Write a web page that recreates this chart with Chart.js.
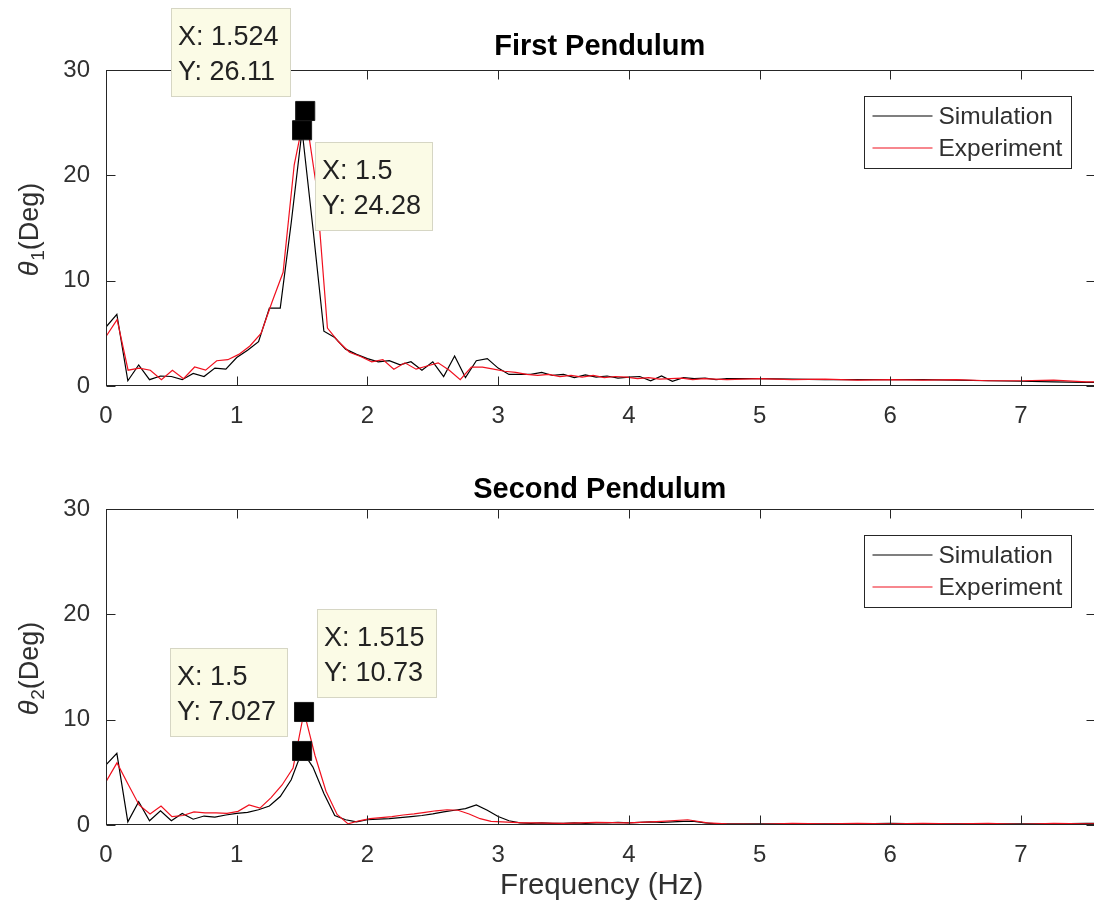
<!DOCTYPE html>
<html>
<head>
<meta charset="utf-8">
<script src="https://cdn.jsdelivr.net/npm/chart.js@4.4.1/dist/chart.umd.min.js"></script>
<style>
  html, body { margin: 0; padding: 0; background: #fff; width: 1094px; height: 916px; overflow: hidden; }
  .panel { position: absolute; left: 0; }
  canvas { display: block; }
</style>
</head>
<body>
<div class="panel" style="top:0"><canvas id="top" width="1110" height="450"></canvas></div>
<div class="panel" style="top:450px"><canvas id="bottom" width="1110" height="466"></canvas></div>
<script>
// ---- axis settings ----
const xTicks = [0, 1, 2, 3, 4, 5, 6, 7];
const yTicks = [0, 10, 20, 30];
const xMax = 7.57;
const yMax = 30;

// ---- simulation frequency grid (Hz) ----
const simFreq = [0, 0.083, 0.167, 0.25, 0.333, 0.417, 0.5, 0.583, 0.667, 0.75, 0.833, 0.917, 1, 1.083, 1.167, 1.25,
  1.333, 1.417, 1.5, 1.583, 1.667, 1.75, 1.833, 1.917, 2, 2.083, 2.167, 2.25, 2.333, 2.417, 2.5, 2.583, 2.667, 2.75,
  2.833, 2.917, 3, 3.083, 3.167, 3.25, 3.333, 3.417, 3.5, 3.583, 3.667, 3.75, 3.833, 3.917, 4, 4.083, 4.167, 4.25,
  4.333, 4.417, 4.5, 4.583, 4.667, 4.75, 5, 5.25, 5.5, 5.75, 6, 6.25, 6.5, 6.75, 7, 7.25, 7.5, 7.75];

// first pendulum, simulation amplitude (deg)
const sim1 = [5.6, 6.8, 0.5, 2.0, 0.6, 0.95, 0.9, 0.6, 1.2, 0.9, 1.7, 1.6, 2.7, 3.4, 4.2, 7.4, 7.4, 15.5, 24.28, 15.0,
  5.2, 4.6, 3.5, 3.0, 2.6, 2.3, 2.4, 2.0, 2.3, 1.5, 2.3, 0.9, 2.85, 0.8, 2.4, 2.6, 1.7, 1.1, 1.1, 1.1,
  1.3, 1.0, 1.1, 0.8, 1.05, 0.85, 0.95, 0.75, 0.85, 0.9, 0.5, 0.95, 0.45, 0.8, 0.7, 0.75, 0.6,
  0.7, 0.7, 0.65, 0.6, 0.6, 0.6, 0.6, 0.55, 0.5, 0.45, 0.4, 0.35, 0.3];

// first pendulum, measured
const expFreq1 = [0, 0.085, 0.169, 0.254, 0.339, 0.424, 0.508, 0.593, 0.678, 0.762, 0.847, 0.932, 1.016, 1.101, 1.186,
  1.271, 1.355, 1.44, 1.524, 1.609, 1.694, 1.779, 1.863, 1.948, 2.033, 2.118, 2.202, 2.287, 2.372, 2.456, 2.541, 2.626,
  2.71, 2.795, 2.88, 2.965, 3.049, 3.134, 3.219, 3.303, 3.388, 3.473, 3.558, 3.642, 3.727, 3.812, 3.896, 3.981, 4.066,
  4.151, 4.235, 4.32, 4.405, 4.489, 4.574, 4.659, 4.75, 5, 5.25, 5.5, 5.75, 6, 6.25, 6.5, 6.75, 7, 7.25, 7.5, 7.75];
const exp1 = [4.7, 6.3, 1.5, 1.7, 1.5, 0.6, 1.5, 0.7, 1.8, 1.5, 2.4, 2.5, 3.0, 3.8, 5.0, 8.0, 10.8, 21.0, 26.11, 19.0,
  5.5, 4.2, 3.2, 2.8, 2.3, 2.5, 1.6, 2.2, 1.6, 1.9, 2.2, 1.5, 0.6, 1.8, 1.8, 1.6, 1.4, 1.3, 1.1, 1.0,
  1.1, 0.9, 1.0, 0.85, 1.0, 0.8, 0.9, 0.85, 0.7, 0.8, 0.65, 0.7, 0.75, 0.6, 0.7, 0.65,
  0.6, 0.7, 0.6, 0.65, 0.55, 0.6, 0.55, 0.6, 0.5, 0.5, 0.55, 0.4, 0.35];

// second pendulum, simulation amplitude (deg)
const sim2 = [5.7, 6.8, 0.3, 2.2, 0.4, 1.35, 0.4, 1.1, 0.55, 0.85, 0.75, 0.95, 1.1, 1.2, 1.45, 1.8, 2.7, 4.3, 7.027, 5.5,
  3.0, 0.9, 0.5, 0.3, 0.5, 0.55, 0.6, 0.7, 0.8, 0.9, 1.05, 1.25, 1.4, 1.55, 1.9, 1.4, 0.8, 0.4, 0.2, 0.15,
  0.2, 0.15, 0.15, 0.2, 0.15, 0.2, 0.2, 0.25, 0.2, 0.25, 0.3, 0.25, 0.3, 0.35, 0.35, 0.2, 0.1,
  0.1, 0.1, 0.12, 0.1, 0.12, 0.15, 0.1, 0.12, 0.1, 0.1, 0.12, 0.15, 0.15];

// second pendulum, measured
const expFreq2 = [0, 0.084, 0.168, 0.253, 0.337, 0.421, 0.505, 0.589, 0.673, 0.758, 0.842, 0.926, 1.01, 1.094, 1.178,
  1.263, 1.347, 1.431, 1.515, 1.599, 1.683, 1.768, 1.852, 1.936, 2.02, 2.104, 2.188, 2.273, 2.357, 2.441, 2.525, 2.609,
  2.693, 2.778, 2.862, 2.946, 3.03, 3.114, 3.198, 3.283, 3.5, 3.75, 4, 4.25, 4.45, 4.6, 4.75, 5, 5.25, 5.5, 5.75, 6,
  6.25, 6.5, 6.75, 7, 7.25, 7.5, 7.75];
const exp2 = [4.1, 5.9, 3.9, 1.9, 1.05, 1.8, 0.8, 0.9, 1.25, 1.15, 1.15, 1.1, 1.3, 1.9, 1.6, 2.6, 3.8, 5.4, 10.73, 6.6,
  3.2, 1.0, 0.1, 0.4, 0.6, 0.7, 0.8, 0.95, 1.05, 1.2, 1.35, 1.45, 1.4, 1.05, 0.6, 0.35, 0.3, 0.25, 0.2, 0.2,
  0.15, 0.25, 0.2, 0.35, 0.5, 0.2, 0.1, 0.05, 0.15, 0.1, 0.15, 0.1, 0.15, 0.1, 0.15, 0.05, 0.15, 0.1, 0.1];

// data cursors: [frequency, amplitude] and where the tip box sits
const tips1 = [[1.524, 26.11], [1.5, 24.28]];
const tipSide1 = ['nw', 'se'];
const tips2 = [[1.515, 10.73], [1.5, 7.027]];
const tipSide2 = ['ne', 'nw'];

const seriesNames = ['Simulation', 'Experiment'];
const titles = ['First Pendulum', 'Second Pendulum'];
const yLabelSubs = ['1', '2'];
const xLabel = 'Frequency (Hz)';

// ---- styling ----
const FONT = '"Liberation Sans", Arial, Helvetica, sans-serif';
const TEXT = '#303030';
const AXIS = '#262626';
const SIM_COLOR = '#000000';
const EXP_COLOR = '#f0101e';
const TICK_LEN = 9;

Chart.defaults.font.family = FONT;
Chart.defaults.color = TEXT;

const pairs = (xs, ys) => xs.map((x, i) => ({ x, y: ys[i] }));

const axesFrame = {
  id: 'axesFrame',
  afterDatasetsDraw(chart, args, o) {
    const { ctx, chartArea: a, scales: { x, y } } = chart;
    const L = Math.round(a.left) + 0.5, R = Math.round(a.right) - 0.5;
    const T = Math.round(a.top) + 0.5, B = Math.round(a.bottom) - 0.5;
    ctx.save();
    ctx.strokeStyle = AXIS;
    ctx.lineWidth = 1;
    ctx.strokeRect(L, T, R - L, B - T);
    ctx.beginPath();
    x.ticks.forEach(t => {
      const px = Math.round(x.getPixelForValue(t.value)) + 0.5;
      ctx.moveTo(px, B); ctx.lineTo(px, B - TICK_LEN);
      ctx.moveTo(px, T); ctx.lineTo(px, T + TICK_LEN);
    });
    y.ticks.forEach(t => {
      const py = Math.round(y.getPixelForValue(t.value)) + 0.5;
      ctx.moveTo(L, py); ctx.lineTo(L + TICK_LEN, py);
      ctx.moveTo(R, py); ctx.lineTo(R - TICK_LEN, py);
    });
    ctx.stroke();

    // title
    ctx.fillStyle = '#000';
    ctx.font = 'bold 29px ' + FONT;
    ctx.textAlign = 'center';
    ctx.textBaseline = 'middle';
    ctx.fillText(o.title, (a.left + a.right) / 2 - 1, a.top - o.titleGap);

    // y label: theta with subscript
    ctx.save();
    ctx.translate(28, (a.top + a.bottom) / 2 + 2);
    ctx.rotate(-Math.PI / 2);
    ctx.fillStyle = TEXT;
    ctx.textAlign = 'left';
    ctx.textBaseline = 'alphabetic';
    const fTheta = 'italic 27px ' + FONT, fSub = '19px ' + FONT, fRest = '27px ' + FONT;
    ctx.font = fTheta; const w1 = ctx.measureText('\u03B8').width;
    ctx.font = fSub; const w2 = ctx.measureText(o.sub).width;
    ctx.font = fRest; const w3 = ctx.measureText('(Deg)').width;
    let sx = -(w1 + w2 + w3) / 2;
    const base = 9.5;
    ctx.font = fTheta; ctx.fillText('\u03B8', sx, base); sx += w1 + 1;
    ctx.font = fSub; ctx.fillText(o.sub, sx, base + 6); sx += w2;
    ctx.font = fRest; ctx.fillText('(Deg)', sx, base);
    ctx.restore();

    // legend
    const lg = { x: a.right - 232, y: a.top + 26, w: 207, h: 72 };
    ctx.fillStyle = '#fff';
    ctx.fillRect(lg.x, lg.y, lg.w, lg.h);
    ctx.strokeStyle = AXIS;
    ctx.strokeRect(Math.round(lg.x) + 0.5, Math.round(lg.y) + 0.5, lg.w, lg.h);
    ctx.font = '24.5px ' + FONT;
    ctx.textAlign = 'left';
    ctx.textBaseline = 'middle';
    chart.data.datasets.filter(d => d.inLegend).forEach((d, i) => {
      const ly = lg.y + 20 + i * 32;
      ctx.strokeStyle = d.borderColor;
      ctx.lineWidth = 1.2;
      ctx.beginPath(); ctx.moveTo(lg.x + 9, ly); ctx.lineTo(lg.x + 69, ly); ctx.stroke();
      ctx.fillStyle = TEXT;
      ctx.fillText(d.label, lg.x + 75, ly + 1);
    });

    // data cursor boxes
    ctx.font = '27px ' + FONT;
    o.tips.forEach((p, i) => {
      const mx = x.getPixelForValue(p[0]), my = y.getPixelForValue(p[1]);
      const lines = ['X: ' + p[0], 'Y: ' + p[1]];
      const tw = Math.max(...lines.map(s => ctx.measureText(s).width));
      const w = Math.round(tw + 19), h = 89;
      const side = o.sides[i];
      const bx = side.includes('w') ? Math.round(mx - 14 - w) : Math.round(mx + 13);
      const by = side.includes('n') ? Math.round(my - 14 - h) : Math.round(my + 12);
      ctx.fillStyle = '#fbfbe6';
      ctx.fillRect(bx, by, w, h);
      ctx.strokeStyle = '#d6d6c4';
      ctx.lineWidth = 1;
      ctx.strokeRect(bx + 0.5, by + 0.5, w - 1, h - 1);
      ctx.fillStyle = '#222';
      ctx.textAlign = 'left';
      ctx.textBaseline = 'middle';
      ctx.fillText(lines[0], bx + 7, by + 30);
      ctx.fillText(lines[1], bx + 7, by + 65);
    });
    ctx.restore();
  }
};

const bottomLabel = {
  id: 'bottomLabel',
  afterDraw(chart, args, o) {
    if (!o.text) return;
    const { ctx, chartArea: a } = chart;
    ctx.save();
    ctx.fillStyle = TEXT;
    ctx.font = '29.5px ' + FONT;
    ctx.textAlign = 'center';
    ctx.textBaseline = 'middle';
    ctx.fillText(o.text, (a.left + a.right) / 2 + 1, a.bottom + 61);
    ctx.restore();
  }
};

function makeChart(id, simData, expX, expY, tips, sides, title, titleGap, sub, padTop, canvasH, plotBottom, xText) {
  const line = (label, data, color, order) => ({
    type: 'line', label, data, borderColor: color, backgroundColor: color,
    borderWidth: 1.2, pointRadius: 0, tension: 0, order, inLegend: true
  });
  return new Chart(document.getElementById(id), {
    type: 'scatter',
    data: {
      datasets: [
        {
          label: 'cursor', data: tips.map(p => ({ x: p[0], y: p[1] })),
          pointStyle: 'rect', pointRadius: 13.5, pointBackgroundColor: '#000',
          pointBorderColor: '#1a1a1a', pointBorderWidth: 1, order: 0, inLegend: false
        },
        line(seriesNames[0], simData, SIM_COLOR, 2),
        line(seriesNames[1], pairs(expX, expY), EXP_COLOR, 1)
      ]
    },
    options: {
      responsive: false,
      animation: false,
      devicePixelRatio: 1,
      layout: { padding: { top: padTop, right: 5, left: 0, bottom: 0 } },
      plugins: {
        legend: { display: false },
        tooltip: { enabled: false },
        axesFrame: { title, titleGap, sub, tips, sides },
        bottomLabel: { text: xText }
      },
      scales: {
        x: {
          type: 'linear', min: 0, max: xMax,
          afterBuildTicks: s => { s.ticks = xTicks.map(v => ({ value: v })); },
          afterFit: s => { s.height = canvasH - plotBottom; },
          grid: { display: false, drawTicks: false },
          border: { display: false },
          ticks: { font: { size: 24 }, color: TEXT, padding: 16, maxRotation: 0 }
        },
        y: {
          type: 'linear', min: 0, max: yMax,
          afterBuildTicks: s => { s.ticks = yTicks.map(v => ({ value: v })); },
          afterFit: s => { s.width = 106; },
          grid: { display: false, drawTicks: false },
          border: { display: false },
          ticks: { font: { size: 24 }, color: TEXT, padding: 16 }
        }
      }
    },
    plugins: [axesFrame, bottomLabel]
  });
}

makeChart('top', pairs(simFreq, sim1), expFreq1, exp1, tips1, tipSide1, titles[0], 23, yLabelSubs[0], 70, 450, 386, '');
makeChart('bottom', pairs(simFreq, sim2), expFreq2, exp2, tips2, tipSide2, titles[1], 19, yLabelSubs[1], 59, 466, 375, xLabel);
</script>
</body>
</html>
